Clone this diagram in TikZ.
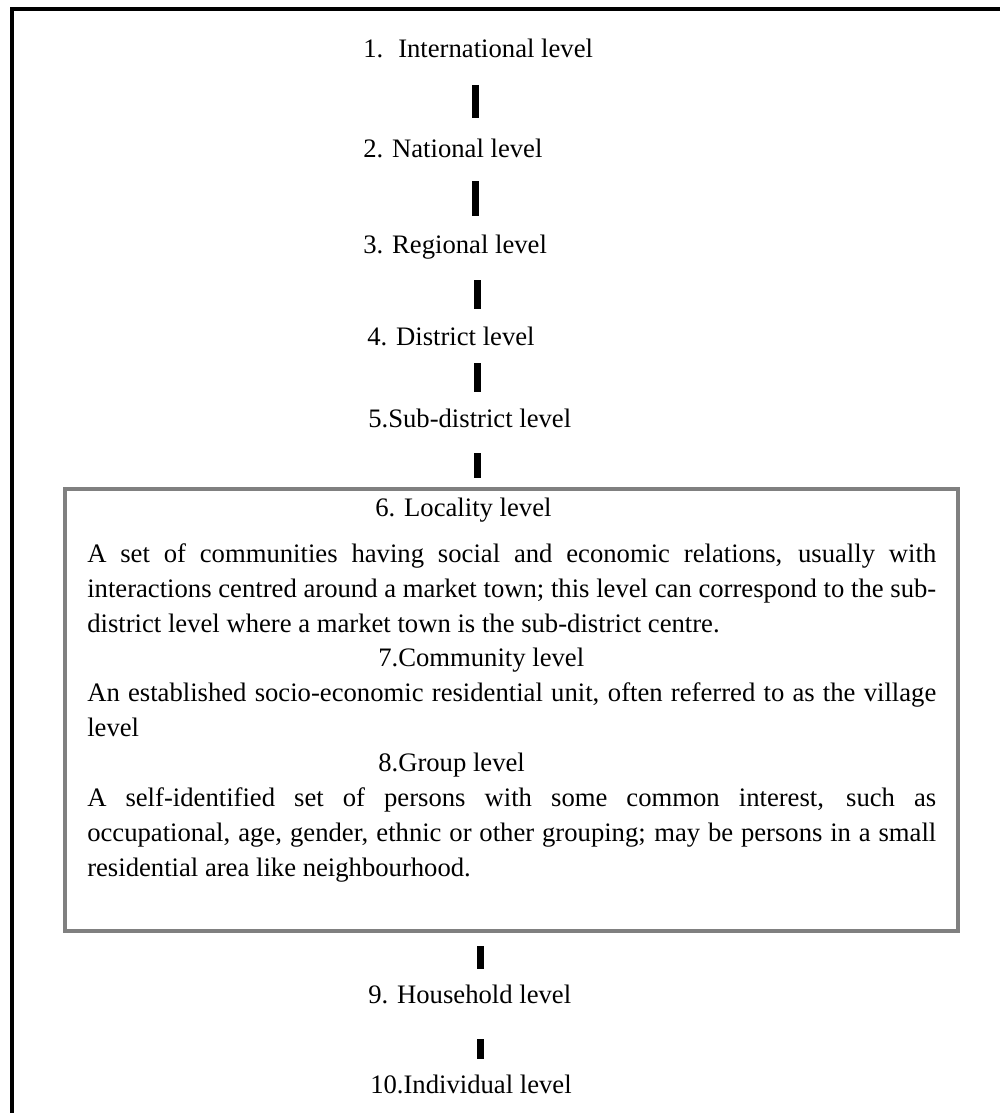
\documentclass[tikz,border=0pt]{standalone}
\usepackage{fontspec}
\setmainfont{Liberation Serif}
\definecolor{panelgray}{RGB}{128,128,128}
\newlength\linew
\setlength\linew{636.75pt}
\newcommand\jline[1]{\makebox[\linew][s]{#1}}
\begin{document}
\begin{tikzpicture}[x=0.75pt,y=-0.75pt,
  lvl/.style={anchor=base west,inner sep=0pt,font=\fontsize{20}{26.25}\selectfont},
  % multi-line blocks sit on the baseline of their last line
  para/.style={anchor=base west,inner sep=0pt,align=left,font=\fontsize{20}{26.25}\selectfont},
  link/.style={line width=5.25pt,black},
  frame/.style={line width=3pt,black,line join=miter},
  panel/.style={draw=panelgray,line width=2.6pt,inner sep=0pt,minimum width=669.75pt,minimum height=331.5pt}]
\useasboundingbox (0,0) rectangle (1000,1113);

% outer frame (top and left edges)
\draw[frame] (11.5,1113) -- (11.5,9) -- (1000,9);

% levels above the grouped panel
\node[lvl] (l1) at (363,58) {1.\hspace*{11.25pt}International level};
\node[lvl] (l2) at (363,157) {2. National level};
\node[lvl] (l3) at (363,253) {3. Regional level};
\node[lvl] (l4) at (367,345) {4. District level};
\node[lvl] (l5) at (368,427) {5.Sub-district level};

% grouped panel: locality, community and group levels
\node[panel] (box) at (511.5,710) {};
\node[lvl] (h6) at (375,516) {6. Locality level};
\node[para] (p6) at (87,632) {\jline{A set of communities having social and economic relations, usually with}\\
\jline{interactions centred around a market town; this level can correspond to the sub-}\\
district level where a market town is the sub-district centre.};
\node[lvl] (h7) at (378,666) {7.Community level};
\node[para] (p7) at (87,736) {\jline{An established socio-economic residential unit, often referred to as the village}\\
level};
\node[lvl] (h8) at (378,771) {8.Group level};
\node[para] (p8) at (87,876) {\jline{A self-identified set of persons with some common interest, such as}\\
\jline{occupational, age, gender, ethnic or other grouping; may be persons in a small}\\
residential area like neighbourhood.};

% levels below the panel
\node[lvl] (l9) at (368,1003) {9. Household level};
\node[lvl] (l10) at (370,1093) {10.Individual level};

% short connector bars between the levels
\coordinate (b1a) at (475,85);   \coordinate (b1b) at (475,118);
\coordinate (b2a) at (475,181);  \coordinate (b2b) at (475,216);
\coordinate (b3a) at (477,280);  \coordinate (b3b) at (477,309);
\coordinate (b4a) at (477,363);  \coordinate (b4b) at (477,392);
\coordinate (b5a) at (477,453);  \coordinate (b5b) at (477,478);
\coordinate (b6a) at (480,946);  \coordinate (b6b) at (480,969);
\coordinate (b7a) at (480,1039); \coordinate (b7b) at (480,1059);
\foreach \i in {1,...,7} {\draw[link] (b\i a) -- (b\i b);}
\end{tikzpicture}
\end{document}
